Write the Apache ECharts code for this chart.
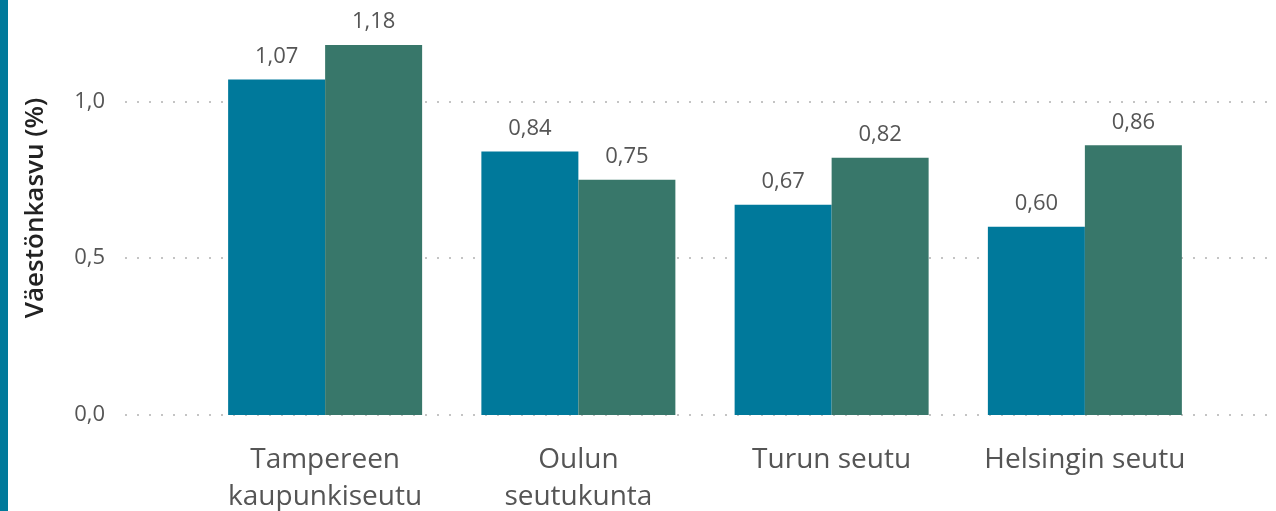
<!DOCTYPE html>
<html>
<head>
<meta charset="utf-8">
<script src="https://cdn.jsdelivr.net/npm/echarts@6/dist/echarts.min.js"></script>
<style>
html,body{margin:0;padding:0;background:#fff;}
#chart{width:1276px;height:511px;}
</style>
</head>
<body>
<div id="chart"></div>
<script>
const categories = ['Tampereen\nkaupunkiseutu', 'Oulun\nseutukunta', 'Turun seutu', 'Helsingin seutu'];
const seriesA = [1.07, 0.84, 0.67, 0.60];
const seriesB = [1.18, 0.75, 0.82, 0.86];
const yMin = 0;
const yMax = 1.32;
const yInterval = 0.5;
const yTitle = 'Väestönkasvu (%)';

const FONT = '"Open Sans", "Noto Sans", sans-serif';
const fmt2 = v => v.toFixed(2).replace('.', ',');
const fmt1 = v => v.toFixed(1).replace('.', ',');

const chart = echarts.init(document.getElementById('chart'));
chart.setOption({
  animation: false,
  backgroundColor: '#fff',
  grid: [
    { left: 125, right: 6, top: 1, bottom: 96, outerBoundsMode: 'none', containLabel: false },
    { left: 198.5, right: 64.5, top: 1, bottom: 96, outerBoundsMode: 'none', containLabel: false }
  ],
  xAxis: [
    { gridIndex: 0, type: 'value', show: false, min: 0, max: 1 },
    {
      gridIndex: 1, type: 'category', data: categories,
      axisLine: { show: false }, axisTick: { show: false },
      axisLabel: { interval: 0, margin: 27, fontSize: 28, lineHeight: 37, color: '#555', fontFamily: FONT, hideOverlap: false }
    }
  ],
  yAxis: [
    {
      gridIndex: 0, type: 'value', min: yMin, max: yMax, interval: yInterval,
      axisLine: { show: false }, axisTick: { show: false },
      axisLabel: { margin: 20, fontSize: 22, color: '#555', fontFamily: FONT, showMaxLabel: false, formatter: v => fmt1(v) },
      splitLine: { show: true, showMaxLine: false, lineStyle: { color: '#c4c4c4', width: 2, type: [2, 10] } }
    },
    {
      gridIndex: 1, type: 'value', min: yMin, max: yMax, interval: yInterval,
      show: false, splitLine: { show: false }
    }
  ],
  graphic: [
    { type: 'rect', left: 0, top: 0, shape: { width: 8, height: 511 }, style: { fill: '#007A9B' }, z: 10 },
    {
      type: 'text', x: 36, y: 208, rotation: Math.PI / 2,
      style: { text: yTitle, fontSize: 26, fontWeight: 600, fill: '#222', fontFamily: FONT, align: 'center', verticalAlign: 'middle' }
    }
  ],
  series: [
    {
      type: 'bar', xAxisIndex: 1, yAxisIndex: 1, data: seriesA, barWidth: 97, barGap: '0%',
      itemStyle: { color: '#00799B' },
      label: { show: true, position: 'top', distance: 12, fontSize: 22, color: '#555', fontFamily: FONT, formatter: p => fmt2(p.value) }
    },
    {
      type: 'bar', xAxisIndex: 1, yAxisIndex: 1, data: seriesB, barWidth: 97, barGap: '0%',
      itemStyle: { color: '#38776A' },
      label: { show: true, position: 'top', distance: 12, fontSize: 22, color: '#555', fontFamily: FONT, formatter: p => fmt2(p.value) }
    }
  ]
});
</script>
</body>
</html>
